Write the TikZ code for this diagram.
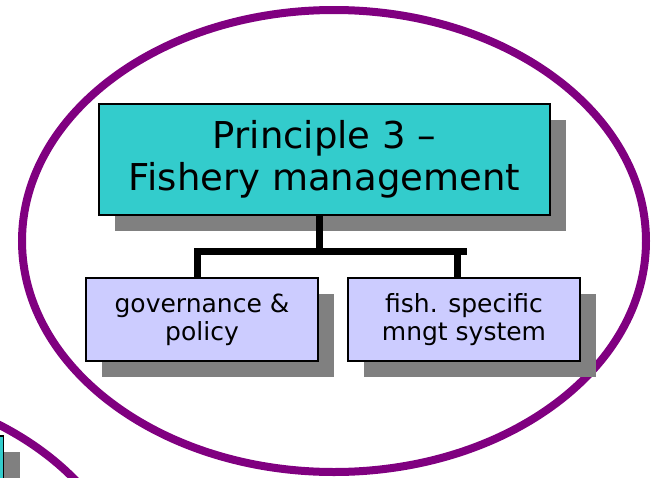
\documentclass[tikz,border=0pt]{standalone}
\usepackage{fontspec}
\setmainfont{DejaVu Sans}
\usetikzlibrary{shadows}
\definecolor{ringpurple}{HTML}{800080}
\definecolor{headcyan}{HTML}{33CCCC}
\definecolor{sublilac}{HTML}{CCCCFF}
\definecolor{shadowgray}{HTML}{808080}

\begin{document}
\begin{tikzpicture}[x=1pt, y=-1pt,
    ring/.style={draw=ringpurple, line width=8pt},
    boxed/.style={draw=black, line width=1.3pt, align=center, inner sep=0pt,
        general shadow={fill=shadowgray, shadow xshift=16pt, shadow yshift=-16pt}},
    headbox/.style={boxed, fill=headcyan, minimum width=451pt, minimum height=111pt,
        font=\fontsize{37}{42}\selectfont},
    subbox/.style={boxed, fill=sublilac, minimum width=232pt, minimum height=83pt,
        font=\fontsize{25}{28}\selectfont},
    link/.style={draw=black, line width=7pt, line join=miter}]
    \useasboundingbox (0,0) rectangle (659,477);
    \clip (0,0) rectangle (659,477);
    \fill[white] (0,0) rectangle (659,477);

    \fill[shadowgray] (-100,452) rectangle (19.5,500);
    \filldraw[fill=headcyan, draw=black, line width=1.3pt] (-100,436) rectangle (3.5,500);
    \draw[ring] (-178,615) ellipse [x radius=312, y radius=231];

    \draw[ring] (334,241) ellipse [x radius=312, y radius=231];

    \node[headbox] (p3) at (324.5,159.5) {Principle 3 --\\Fishery management};
    \node[subbox] (gov) at (202,319.5) {governance \&\\policy};
    \node[subbox] (fish) at (464,319.5) {fish. specific\\mngt system};

    \coordinate (bar) at (319,251);
    \draw[link] ([xshift=-5.5pt]p3.south) -- (bar);
    \draw[link] ([xshift=-5pt]gov.north) |- ([xshift=3pt]fish.north |- bar);
    \draw[link] ([xshift=-7pt]fish.north) -- ([xshift=-7pt]fish.north |- bar);
\end{tikzpicture}
\end{document}
